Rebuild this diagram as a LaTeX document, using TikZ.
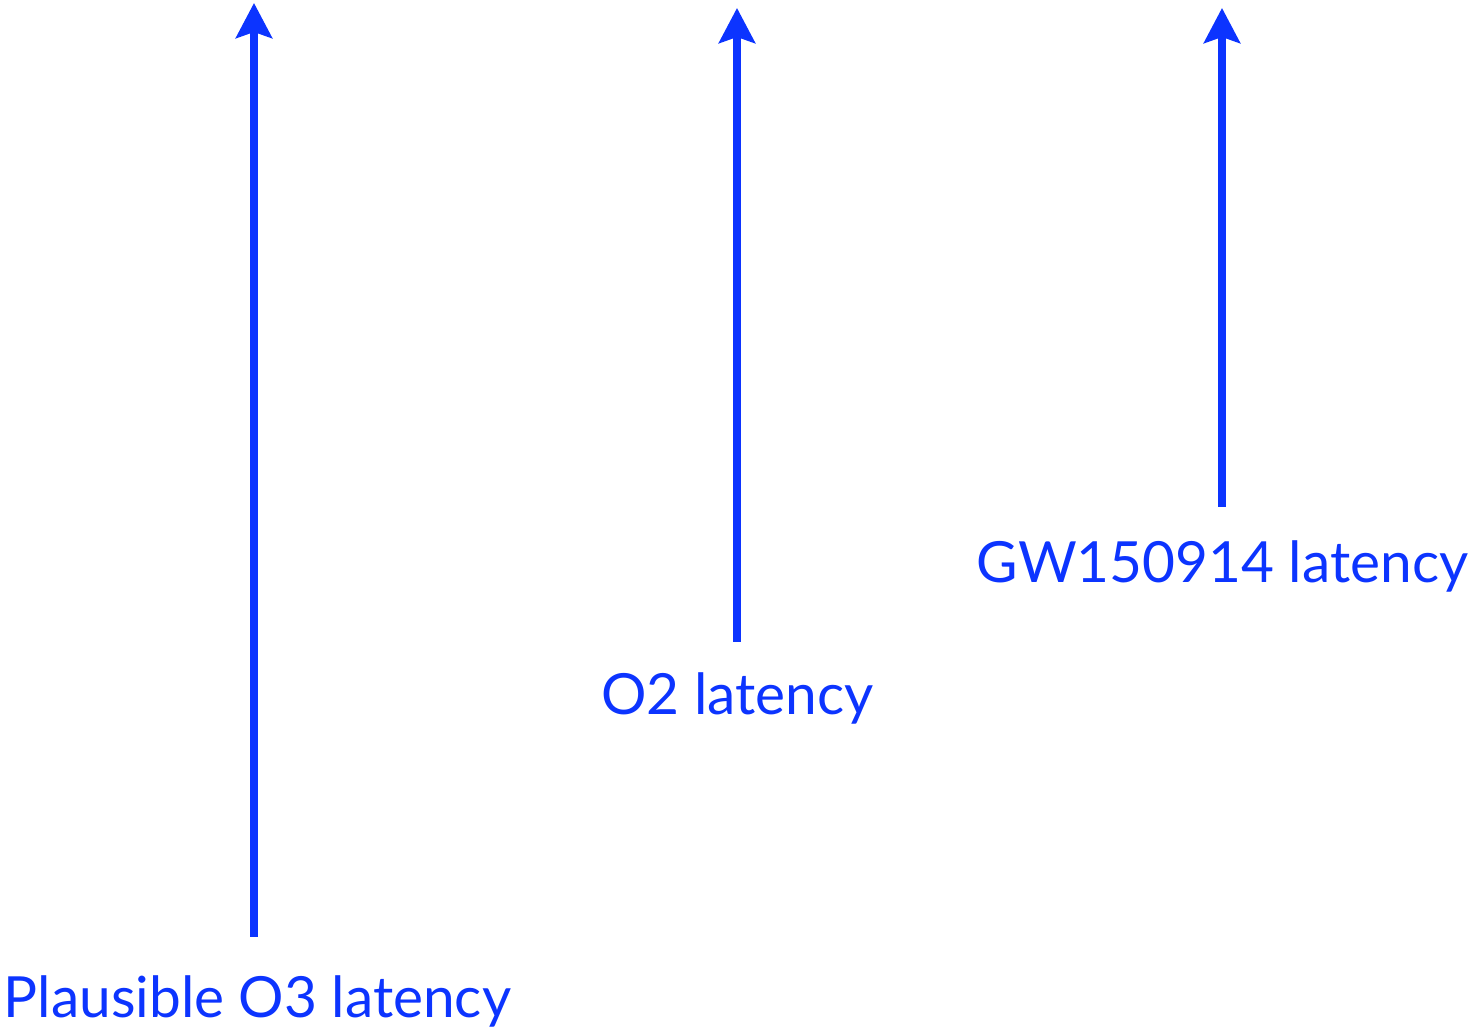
\documentclass[tikz,border=0pt]{standalone}
\usepackage{fontspec}
\setmainfont{Lato}
\definecolor{latblue}{RGB}{12,52,255}
\usetikzlibrary{arrows.meta,positioning}
\tikzset{
    latarrow/.style={
        -{Stealth[length=0.7cm, width=0.72cm, inset=0.12cm]},
        line width=0.15cm,
        draw=latblue
    },
    latlabel/.style={
        text=latblue,
        font=\fontsize{32.3}{38}\selectfont,
        anchor=base,
        inner sep=0pt
    }
}
\begin{document}
\begin{tikzpicture}
        \useasboundingbox (0,0) rectangle (29.52,20.62);

        % Labels
        \node[latlabel] (o3lab) at (5.15,0.27) {Plausible O3 latency};
        \node[latlabel] (o2lab) at (14.75,6.32) {O2 latency};
        \node[latlabel] (gwlab) at (24.45,8.96) {GW150914 latency};

        % Arrow ends
        \coordinate (o3bot) at (5.08,1.88);
        \coordinate (o3top) at (5.08,20.56);
        \coordinate (o2bot) at (14.74,7.78);
        \coordinate (o2top) at (14.74,20.46);
        \coordinate (gwbot) at (24.44,10.48);
        \coordinate (gwtop) at (24.44,20.46);

        % Latency arrows
        \draw[latarrow] (o3bot) -- (o3top);
        \draw[latarrow] (o2bot) -- (o2top);
        \draw[latarrow] (gwbot) -- (gwtop);
\end{tikzpicture}
\end{document}
